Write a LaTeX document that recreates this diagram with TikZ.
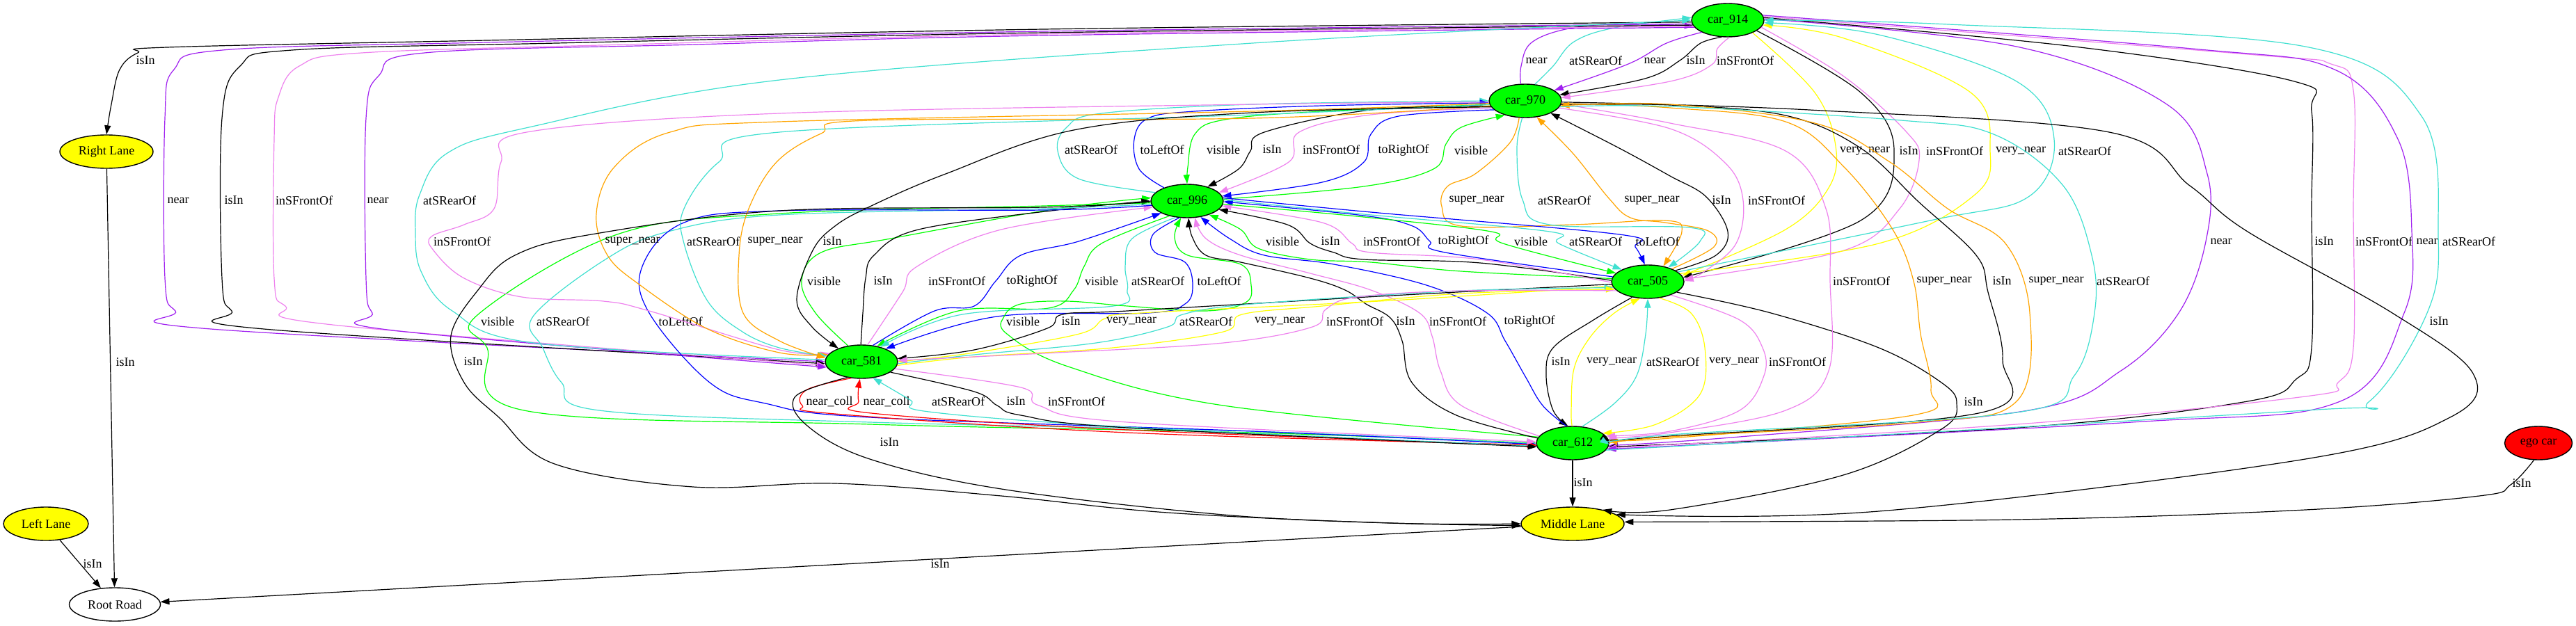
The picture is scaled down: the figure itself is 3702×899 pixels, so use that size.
\documentclass[tikz,border=0pt]{standalone}
\usepackage{fontspec}
\setmainfont{Liberation Serif}
\usetikzlibrary{arrows.meta, shapes.geometric}
\definecolor{gvgreen}{HTML}{00FF00}
\definecolor{gvyellow}{HTML}{FFFF00}
\definecolor{gvred}{HTML}{FF0000}
\definecolor{gvpurple}{HTML}{A020F0}
\definecolor{gvviolet}{HTML}{EE82EE}
\definecolor{gvturq}{HTML}{40E0D0}
\definecolor{gvorange}{HTML}{FFA500}
\definecolor{gvblue}{HTML}{0000FF}
\tikzset{
  car/.style={draw, ellipse, fill=gvgreen, minimum width=52pt, minimum height=24pt, inner sep=0pt, line width=0.7pt, font=\fontsize{9}{10}\selectfont},
  lane/.style={draw, ellipse, fill=gvyellow, minimum height=24pt, inner sep=0pt, line width=0.7pt, font=\fontsize{9}{10}\selectfont},
  lbl/.style={inner sep=0pt, font=\fontsize{9}{10}\selectfont},
  rel/.style={-{Triangle[length=6.5pt, width=4.5pt]}, line width=0.6pt, smooth, tension=0.6},
  risin/.style={rel, draw=black},
  rnear/.style={rel, draw=gvpurple},
  rfront/.style={rel, draw=gvviolet},
  rrear/.style={rel, draw=gvturq},
  rside/.style={rel, draw=gvblue},
  rvis/.style={rel, draw=gvgreen},
  rsuper/.style={rel, draw=gvorange},
  rvery/.style={rel, draw=gvyellow},
  rcoll/.style={rel, draw=gvred}
}

\begin{document}
\begin{tikzpicture}[x=0.5pt, y=-0.5pt]
  \fill[white] (0,0) rectangle (3702,899);
  \useasboundingbox (0,0) rectangle (3702,899);

  \node[car] (c914) at (2483,29) {car\_914};
  \node[car] (c970) at (2192,145) {car\_970};
  \node[car] (c996) at (1706,289) {car\_996};
  \node[car] (c505) at (2368,405) {car\_505};
  \node[car] (c581) at (1238,520) {car\_581};
  \node[car] (c612) at (2260,637) {car\_612};
  \node[lane, minimum width=74pt] (mlane) at (2260,753) {Middle Lane};
  \node[lane, minimum width=67pt] (rlane) at (153,218) {Right Lane};
  \node[lane, minimum width=61pt] (llane) at (66,753) {Left Lane};
  \node[lane, fill=white, minimum width=65.5pt] (root) at (165,869) {Root Road};
  \node[car, fill=gvred, minimum width=48.5pt] (ego) at (3648,637) {ego car};

  % car_914 and car_970
  \draw[rnear] plot coordinates {(c970.105) (2186,95) (2200,62) (2250,42) (2330,34) (c914.190)};
  \node[lbl] (tA1) at (2208,87) {near};
  \draw[rrear] plot coordinates {(c970.60) (2232,95) (2262,60) (2320,40) (c914.176)};
  \node[lbl] (tA2) at (2293,87) {atSRearOf};
  \draw[rnear] plot coordinates {(c914.205) (2395,62) (2340,92) (c970.20)};
  \node[lbl] (tA3) at (2378,87) {near};
  \draw[risin] plot coordinates {(c914.250) (2444,62) (2414,87) (2364,113) (c970.10)};
  \node[lbl] (tA4) at (2437,87) {isIn};
  \draw[rfront] plot coordinates {(c914.275) (2468,70) (2460,93) (2400,117) (c970.5)};
  \node[lbl] (tA5) at (2508,87) {inSFrontOf};

  % car_914 to the left
  \draw[risin] plot coordinates {(c914.183) (1500,42) (700,58) (240,68) (198,76) (172,100) (160,150) (rlane.north)};
  \node[lbl] (tB0) at (209,87) {isIn};
  \draw[rnear] plot coordinates {(c914.186) (1500,45) (700,61) (320,72) (250,100) (237,170) (237,400) (252,447) (303,473) (c581.180)};
  \node[lbl] (tB1) at (256,288) {near};
  \draw[risin] plot coordinates {(c914.188) (1500,47) (800,62) (420,72) (345,95) (319,170) (319,400) (333,447) (379,473) (c581.183)};
  \node[lbl] (tB2) at (336,288) {isIn};
  \draw[rfront] plot coordinates {(c914.190) (1500,49) (900,64) (520,76) (430,95) (400,140) (394,200) (394,400) (410,440) (478,467) (c581.186)};
  \node[lbl] (tB3) at (437,288) {inSFrontOf};
  \draw[rnear] plot coordinates {(c914.192) (1500,51) (1000,64) (610,76) (545,108) (526,170) (526,400) (535,450) (565,475) (c581.189)};
  \node[lbl] (tB4) at (543,288) {near};
  \draw[rrear] plot coordinates {(c581.177) (767,493) (650,447) (605,390) (597,333) (603,280) (643,220) (760,183) (1120,115) (1800,62) (c914.180)};
  \node[lbl] (tB5) at (646,288) {atSRearOf};

  % car_914 and car_505
  \draw[rvery] plot coordinates {(c914.333) (2608,133) (2638,210) (2628,270) (2566,330) (c505.10)};
  \node[lbl] (tC1) at (2680,217) {very\_near};
  \draw[risin] plot coordinates {(c914.340) (2674,133) (2722,217) (2674,317) (c505.7)};
  \node[lbl] (tC2) at (2743,217) {isIn};
  \draw[rfront] plot coordinates {(c914.348) (2650,110) (2740,190) (2758,230) (2730,300) (2650,360) (c505.4)};
  \node[lbl] (tC3) at (2809,217) {inSFrontOf};
  \draw[rvery] plot coordinates {(c505.14) (2700,350) (2838,280) (2860,217) (2832,133) (2650,55) (c914.352)};
  \node[lbl] (tC4) at (2904,217) {very\_near};
  \draw[rrear] plot coordinates {(c505.18) (2774,317) (2915,283) (2952,200) (2898,117) (2700,50) (c914.356)};
  \node[lbl] (tC5) at (2996,217) {atSRearOf};

  % car_914 and car_612
  \draw[rnear] plot coordinates {(c914.2) (2898,67) (3114,150) (3172,250) (3170,347) (3131,450) (3048,533) (2915,590) (2500,628) (c612.356)};
  \node[lbl] (tD1) at (3192,347) {near};
  \draw[risin] plot coordinates {(c914.4) (2981,67) (3297,117) (3322,160) (3322,300) (3322,500) (3300,545) (3230,577) (2898,615) (c612.354)};
  \node[lbl] (tD2) at (3340,347) {isIn};
  \draw[rfront] plot coordinates {(c914.6) (3230,78) (3350,92) (3382,130) (3382,300) (3382,500) (3360,550) (3313,570) (2898,610) (c612.352)};
  \node[lbl] (tD3) at (3426,347) {inSFrontOf};
  \draw[rnear] plot coordinates {(c914.8) (3150,70) (3355,100) (3446,200) (3466,333) (3455,450) (3363,577) (3064,607) (c612.350)};
  \node[lbl] (tD4) at (3488,347) {near};
  \draw[rrear] plot coordinates {(c612.348) (3313,590) (3405,577) (3488,450) (3504,340) (3480,167) (3313,67) (2800,35) (c914.0)};
  \node[lbl] (tD5) at (3548,347) {atSRearOf};

  % to Middle Lane from the right
  \draw[risin] plot coordinates {(c970.358) (2600,158) (3031,190) (3147,267) (3230,333) (3438,450) (3554,537) (3521,600) (3313,660) (2700,735) (mlane.12)};
  \node[lbl] (tE1) at (3505,462) {isIn};
  \draw[risin] plot coordinates {(c505.340) (2545,450) (2700,500) (2790,550) (2812,580) (2790,617) (2649,683) (2400,733) (mlane.25)};
  \node[lbl] (tE2) at (2836,578) {isIn};

  % car_970 and car_612
  \draw[rfront] plot coordinates {(c970.355) (2400,177) (2566,217) (2624,300) (2630,404) (2628,533) (2566,590) (2400,622) (c612.8)};
  \node[lbl] (tF1) at (2675,404) {inSFrontOf};
  \draw[rsuper] plot coordinates {(c970.356) (2400,155) (2566,175) (2650,240) (2720,330) (2750,404) (2760,480) (2775,560) (2749,597) (2400,630) (c612.5)};
  \node[lbl] (tF2) at (2794,404) {super\_near};
  \draw[risin] plot coordinates {(c970.354) (2400,151) (2566,166) (2674,213) (2757,290) (2840,367) (2857,420) (2878,517) (2848,593) (2400,627) (c612.2)};
  \node[lbl] (tF3) at (2877,404) {isIn};
  \draw[rsuper] plot coordinates {(c612.0) (2400,628) (2757,607) (2898,577) (2917,450) (2882,350) (2799,300) (2716,233) (2608,177) (2400,150) (c970.352)};
  \node[lbl] (tF4) at (2955,404) {super\_near};
  \draw[rrear] plot coordinates {(c970.350) (2400,153) (2732,173) (2865,193) (2965,267) (3006,367) (3010,450) (2981,540) (2898,593) (2400,625) (c612.358)};
  \node[lbl] (tF5) at (3051,404) {atSRearOf};

  % car_505 and car_612
  \draw[risin] plot coordinates {(c505.225) (2290,460) (2232,500) (2222,540) (2232,590) (c612.105)};
  \node[lbl] (tG1) at (2243,520) {isIn};
  \draw[rvery] plot coordinates {(c612.92) (2258,590) (2262,530) (2285,485) (2320,450) (c505.245)};
  \node[lbl] (tG2) at (2316,520) {very\_near};
  \draw[rrear] plot coordinates {(c612.60) (2320,580) (2352,540) (2365,480) (c505.270)};
  \node[lbl] (tG3) at (2404,520) {atSRearOf};
  \draw[rvery] plot coordinates {(c505.305) (2430,450) (2450,500) (2443,567) (2380,610) (c612.18)};
  \node[lbl] (tG4) at (2492,520) {very\_near};
  \draw[rfront] plot coordinates {(c505.330) (2500,460) (2533,500) (2535,540) (2500,590) (2400,620) (c612.12)};
  \node[lbl] (tG5) at (2583,520) {inSFrontOf};

  % car_970 and car_505
  \draw[rsuper] plot coordinates {(c970.250) (2170,205) (2120,250) (2080,268) (2072,297) (2100,325) (2260,323) (2393,317) (2417,333) (c505.45)};
  \node[lbl] (tH1) at (2122,288) {super\_near};
  \draw[rrear] plot coordinates {(c970.260) (2180,213) (2188,287) (2227,323) (2427,327) (2443,347) (c505.35)};
  \node[lbl] (tH2) at (2248,288) {atSRearOf};
  \draw[rsuper] plot coordinates {(c505.28) (2463,355) (2455,332) (2393,320) (2343,313) (2312,285) (2260,220) (c970.305)};
  \node[lbl] (tH3) at (2374,288) {super\_near};
  \draw[risin] plot coordinates {(c505.22) (2466,367) (2483,333) (2452,283) (2400,253) (2327,213) (c970.334)};
  \node[lbl] (tH4) at (2474,288) {isIn};
  \draw[rfront] plot coordinates {(c970.348) (2400,185) (2480,235) (2505,288) (2495,350) (2450,390) (c505.1)};
  \node[lbl] (tH5) at (2553,288) {inSFrontOf};

  % car_970 and car_996
  \draw[rrear] plot coordinates {(c996.165) (1550,257) (1520,217) (1533,183) (1583,163) (1800,150) (c970.180)};
  \node[lbl] (tI1) at (1568,215) {atSRearOf};
  \draw[rside] plot coordinates {(c996.150) (1637,243) (1630,200) (1650,170) (1717,160) (1900,152) (c970.183)};
  \node[lbl] (tI2) at (1670,215) {toLeftOf};
  \draw[rvis] plot coordinates {(c970.186) (1900,160) (1760,172) (1717,193) (1707,240) (c996.90)};
  \node[lbl] (tI3) at (1758,215) {visible};
  \draw[risin] plot coordinates {(c970.189) (1970,158) (1817,190) (1797,217) (1780,243) (c996.35)};
  \node[lbl] (tI4) at (1828,215) {isIn};
  \draw[rfront] plot coordinates {(c970.192) (1970,165) (1867,190) (1852,233) (c996.15)};
  \node[lbl] (tI5) at (1913,215) {inSFrontOf};
  \draw[rside] plot coordinates {(c970.196) (2010,167) (1970,193) (1960,233) (1900,262) (c996.8)};
  \node[lbl] (tI6) at (2017,216) {toRightOf};
  \draw[rvis] plot coordinates {(c996.3) (1960,268) (2060,243) (2078,207) (2100,183) (c970.215)};
  \node[lbl] (tI7) at (2114,216) {visible};

  % car_996 and car_505
  \draw[rvis] plot coordinates {(c505.175) (2100,390) (1970,377) (1883,373) (1808,357) (1783,330) (c996.328)};
  \node[lbl] (tJ1) at (1843,347) {visible};
  \draw[risin] plot coordinates {(c505.178) (2127,378) (1960,373) (1917,363) (1883,350) (1850,323) (c996.345)};
  \node[lbl] (tJ2) at (1912,347) {isIn};
  \draw[rfront] plot coordinates {(c505.181) (2127,373) (1970,363) (1943,350) (1900,320) (c996.352)};
  \node[lbl] (tJ3) at (2000,347) {inSFrontOf};
  \draw[rside] plot coordinates {(c505.172) (2077,363) (2055,347) (2030,325) (1960,310) (c996.359)};
  \node[lbl] (tJ4) at (2103,347) {toRightOf};
  \draw[rvis] plot coordinates {(c996.355) (1960,312) (2143,333) (2160,350) (c505.165)};
  \node[lbl] (tJ5) at (2200,347) {visible};
  \draw[rrear] plot coordinates {(c996.2) (1960,308) (2227,333) (2240,350) (c505.155)};
  \node[lbl] (tJ6) at (2293,347) {atSRearOf};
  \draw[rside] plot coordinates {(c996.5) (1970,305) (2327,337) (2350,355) (c505.100)};
  \node[lbl] (tJ7) at (2382,347) {toLeftOf};

  % car_996 and car_581
  \draw[rvis] plot coordinates {(c581.130) (1172,450) (1152,404) (1180,363) (1280,343) (1519,300) (c996.175)};
  \node[lbl] (tK1) at (1184,404) {visible};
  \draw[risin] plot coordinates {(c581.92) (1240,450) (1244,400) (1256,367) (1320,330) (1519,302) (c996.180)};
  \node[lbl] (tK2) at (1269,404) {isIn};
  \draw[rfront] plot coordinates {(c581.70) (1297,420) (1318,383) (1439,330) (c996.190)};
  \node[lbl] (tK3) at (1375,404) {inSFrontOf};
  \draw[rside] plot coordinates {(c581.55) (1343,447) (1400,440) (1431,404) (1467,367) (1550,347) (c996.205)};
  \node[lbl] (tK4) at (1483,404) {toRightOf};
  \draw[rvis] plot coordinates {(c996.220) (1583,350) (1558,383) (1543,417) (1507,443) (1377,447) (c581.45)};
  \node[lbl] (tK5) at (1583,404) {visible};
  \draw[rrear] plot coordinates {(c996.235) (1627,343) (1617,383) (1620,417) (1600,440) (1383,452) (c581.38)};
  \node[lbl] (tK6) at (1664,404) {atSRearOf};
  \draw[rside] plot coordinates {(c996.245) (1657,337) (1660,363) (1703,377) (1714,410) (1703,437) (1650,450) (1433,455) (c581.28)};
  \node[lbl] (tK7) at (1752,404) {toLeftOf};

  % car_612 to car_996
  \draw[rvis] plot coordinates {(c612.170) (1758,583) (1535,527) (1447,480) (1443,455) (1467,437) (1533,433) (1620,440) (1733,447) (1790,435) (1798,410) (1783,380) (1707,367) (1688,342) (c996.250)};
  \node[lbl] (tP1) at (1470,462) {visible};
  \draw[risin] plot coordinates {(c612.172) (2093,597) (2029,550) (2015,490) (1998,457) (1963,437) (1933,417) (1883,400) (1783,377) (1733,367) (1713,340) (c996.275)};
  \node[lbl] (tP2) at (2020,462) {isIn};
  \draw[rfront] plot coordinates {(c612.168) (2100,583) (2070,533) (2058,483) (2040,450) (1970,417) (1883,393) (1783,367) (1733,343) (c996.295)};
  \node[lbl] (tP3) at (2095,462) {inSFrontOf};
  \draw[rside] plot coordinates {(c612.110) (2217,583) (2193,543) (2163,490) (2137,450) (2050,410) (1917,380) (1817,367) (1767,343) (c996.310)};
  \node[lbl] (tP4) at (2198,462) {toRightOf};

  % car_996 to car_612 round the left
  \draw[rvis] plot coordinates {(c996.183) (1500,296) (1120,307) (887,337) (686,453) (700,500) (753,590) (1250,610) (1800,622) (c612.180)};
  \node[lbl] (tN1) at (715,462) {visible};
  \draw[rrear] plot coordinates {(c996.185) (1500,300) (1120,309) (960,333) (870,373) (766,455) (780,500) (807,550) (861,590) (1250,607) (1800,620) (c612.181)};
  \node[lbl] (tN2) at (809,462) {atSRearOf};
  \draw[rside] plot coordinates {(c996.187) (1500,302) (1120,303) (983,320) (923,383) (933,450) (1020,550) (1100,580) (1250,600) (1800,620) (c612.182)};
  \node[lbl] (tN3) at (978,462) {toLeftOf};

  % car_970 to car_581
  \draw[rfront] plot coordinates {(c970.182) (1800,150) (1120,163) (757,190) (720,233) (710,300) (667,323) (620,340) (623,360) (667,400) (750,427) (867,433) (933,447) (1120,503) (c581.165)};
  \node[lbl] (tO1) at (664,347) {inSFrontOf};
  \draw[rsuper] plot coordinates {(c970.184) (1800,160) (1120,175) (963,190) (883,240) (857,307) (873,367) (920,410) (1017,473) (1120,507) (c581.168)};
  \node[lbl] (tO2) at (909,347) {super\_near};
  \draw[rrear] plot coordinates {(c970.186) (1800,165) (1120,190) (1033,233) (983,300) (983,350) (1017,433) (1067,477) (1120,500) (c581.171)};
  \node[lbl] (tO3) at (1025,347) {atSRearOf};
  \draw[rsuper] plot coordinates {(c970.188) (1800,170) (1250,173) (1180,192) (1116,233) (1076,300) (1062,367) (1068,450) (1120,490) (c581.174)};
  \node[lbl] (tO4) at (1114,347) {super\_near};
  \draw[risin] plot coordinates {(c970.190) (1800,162) (1543,187) (1359,250) (1250,297) (1200,325) (1168,360) (1145,430) (1167,470) (c581.150)};
  \node[lbl] (tO5) at (1196,347) {isIn};

  % car_505 and car_581
  \draw[risin] plot coordinates {(c505.184) (2000,425) (1620,447) (1527,452) (1505,472) (1400,503) (c581.5)};
  \node[lbl] (tL1) at (1539,462) {isIn};
  \draw[rvery] plot coordinates {(c505.187) (2000,432) (1640,450) (1588,458) (1551,480) (1400,507) (c581.0)};
  \node[lbl] (tL2) at (1626,462) {very\_near};
  \draw[rrear] plot coordinates {(c581.357) (1400,510) (1575,493) (1678,470) (1700,452) (1800,437) (2100,418) (c505.190)};
  \node[lbl] (tL3) at (1733,462) {atSRearOf};
  \draw[rvery] plot coordinates {(c581.354) (1400,513) (1599,500) (1758,477) (1785,452) (1900,440) (2100,422) (c505.193)};
  \node[lbl] (tL4) at (1839,462) {very\_near};
  \draw[rfront] plot coordinates {(c505.196) (2100,418) (1950,427) (1905,445) (1886,470) (1758,493) (1519,507) (c581.2)};
  \node[lbl] (tL5) at (1947,462) {inSFrontOf};

  % car_581 and car_612
  \draw[rcoll] plot coordinates {(c581.238) (1160,560) (1153,583) (1200,595) (1620,622) (c612.183)};
  \node[lbl] (tM1) at (1192,577) {near\_coll};
  \draw[rcoll] plot coordinates {(c612.184) (1620,618) (1252,594) (1234,577) (c581.265)};
  \node[lbl] (tM2) at (1274,577) {near\_coll};
  \draw[rrear] plot coordinates {(c612.185) (1620,614) (1335,592) (1308,575) (c581.305)};
  \node[lbl] (tM3) at (1377,577) {atSRearOf};
  \draw[risin] plot coordinates {(c581.340) (1400,563) (1433,583) (1467,597) (1620,615) (c612.186)};
  \node[lbl] (tM4) at (1460,577) {isIn};
  \draw[rfront] plot coordinates {(c581.348) (1467,557) (1493,583) (1620,607) (c612.178)};
  \node[lbl] (tM5) at (1547,577) {inSFrontOf};

  % lanes
  \draw[risin] (c612) -- (mlane);
  \node[lbl] (tQ1) at (2275,694) {isIn};
  \draw[risin] plot coordinates {(c996.181) (1500,298) (1120,303) (850,337) (740,367) (687,417) (648,483) (667,550) (717,600) (797,667) (996,700) (1200,695) (1439,713) (1678,737) (1997,752) (mlane.180)};
  \node[lbl] (tQ2) at (680,520) {isIn};
  \draw[risin] plot coordinates {(c581.228) (1143,570) (1160,612) (1250,660) (1439,703) (1758,740) (2000,752) (mlane.182)};
  \node[lbl] (tQ3) at (1278,636) {isIn};
  \draw[risin] plot coordinates {(ego.255) (3608,697) (3563,713) (3313,733) (2898,747) (mlane.2)};
  \node[lbl] (tQ4) at (3624,695) {isIn};
  \draw[risin] (mlane) -- (root);
  \node[lbl] (tR1) at (1351,811) {isIn};
  \draw[risin] (llane) -- (root);
  \node[lbl] (tR2) at (133,811) {isIn};
  \draw[risin] (rlane) -- (root);
  \node[lbl] (tR3) at (180,521) {isIn};
\end{tikzpicture}
\end{document}
